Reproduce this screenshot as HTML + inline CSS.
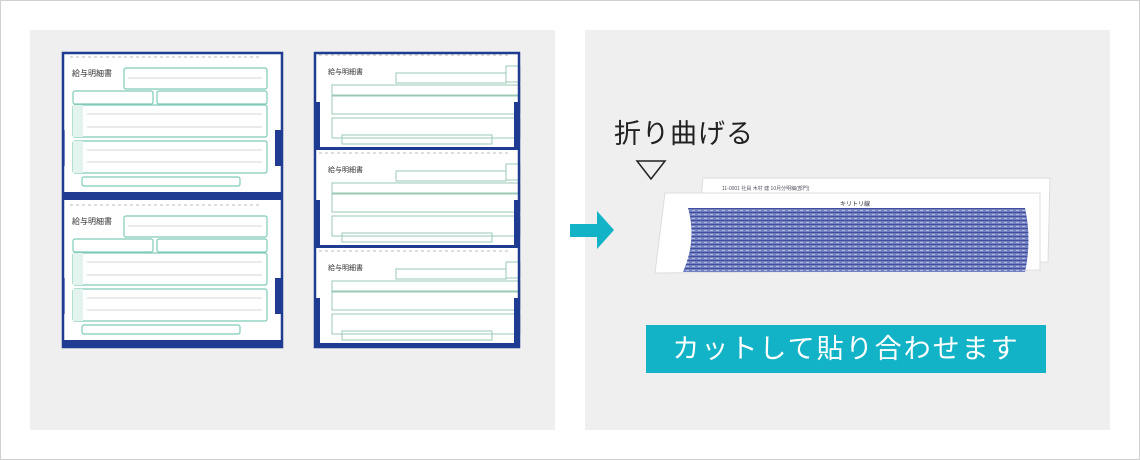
<!DOCTYPE html>
<html><head><meta charset="utf-8"><style>
html,body{margin:0;padding:0;background:#fff}
body{width:1140px;height:460px;position:relative;overflow:hidden;font-family:"Liberation Sans","Noto Sans CJK JP",sans-serif}
.frame{position:absolute;left:0;top:0;width:1138px;height:458px;border:1px solid #d0d0d0}
.p{position:absolute;background:#efefef}
.t1{position:absolute;left:614px;top:112px;font-size:27px;color:#222;letter-spacing:1px}
.btn{position:absolute;left:646px;top:325px;width:400px;height:48px;background:#13b3c7;color:#fff;font-size:27px;line-height:48px;text-align:center;letter-spacing:2px}
svg{position:absolute;left:0;top:0}
</style></head><body>
<div class="frame"></div>
<div class="p" style="left:30px;top:30px;width:525px;height:400px"></div>
<div class="p" style="left:585px;top:30px;width:525px;height:400px"></div>
<svg width="1140" height="460" viewBox="0 0 1140 460">
<defs>
<pattern id="tx" width="6" height="4" patternUnits="userSpaceOnUse">
<rect width="6" height="4" fill="#7280c0"/>
<rect x="0" y="0" width="6" height="1" fill="#3f4f9e"/>
<rect x="2" y="2" width="3" height="1" fill="#b5bde0"/>
</pattern>
<g id="ls">
<rect x="0" y="0" width="221" height="148" fill="#fff"/>
<line x1="8" y1="5" x2="200" y2="5" stroke="#bbb" stroke-width="1" stroke-dasharray="3 3"/>
<text x="10" y="24" font-size="8" fill="#333">給与明細書</text>
<rect x="62" y="16" width="143" height="21" rx="2" fill="none" stroke="#7fcbb8" stroke-width="1.2"/>
<rect x="11" y="39" width="80" height="13" rx="2" fill="none" stroke="#7fcbb8" stroke-width="1.2"/>
<rect x="95" y="39" width="110" height="13" rx="2" fill="none" stroke="#7fcbb8" stroke-width="1.2"/>
<rect x="11" y="53" width="194" height="32" rx="2" fill="none" stroke="#7fcbb8" stroke-width="1.2"/>
<rect x="11" y="53" width="10" height="32" fill="#e3f3ee"/>
<rect x="11" y="89" width="194" height="32" rx="2" fill="none" stroke="#7fcbb8" stroke-width="1.2"/>
<rect x="11" y="89" width="10" height="32" fill="#e3f3ee"/>
<rect x="20" y="125" width="158" height="9" rx="2" fill="none" stroke="#7fcbb8" stroke-width="1.2"/>
<g stroke="#aaa" stroke-width="0.6">
<line x1="25" y1="62" x2="200" y2="62"/><line x1="25" y1="75" x2="200" y2="75"/>
<line x1="25" y1="98" x2="200" y2="98"/><line x1="25" y1="110" x2="200" y2="110"/>
<line x1="66" y1="26" x2="200" y2="26"/>
</g>
<rect x="0" y="140" width="221" height="8" fill="#1f3c92"/>
<rect x="213" y="78" width="8" height="36" fill="#1f3c92"/>
<rect x="0" y="78" width="3" height="36" fill="#8fa0d0"/>
</g>
<g id="ms">
<rect x="0" y="0" width="206" height="98" fill="#fff"/>
<line x1="5" y1="3" x2="195" y2="3" stroke="#bbb" stroke-width="1" stroke-dasharray="3 3"/>
<text x="14" y="22" font-size="7" fill="#333">給与明細書</text>
<rect x="82" y="21" width="110" height="10" fill="none" stroke="#9ac9b3" stroke-width="1"/>
<rect x="192" y="14" width="14" height="16" fill="none" stroke="#9ac9b3" stroke-width="1"/>
<rect x="18" y="33" width="188" height="10" fill="none" stroke="#9ac9b3" stroke-width="1"/>
<rect x="18" y="44" width="188" height="18" fill="none" stroke="#9ac9b3" stroke-width="1"/>
<rect x="18" y="66" width="188" height="20" fill="none" stroke="#9ac9b3" stroke-width="1"/>
<rect x="28" y="83" width="150" height="9" fill="none" stroke="#9ac9b3" stroke-width="1"/>
<rect x="0" y="95" width="206" height="5" fill="#1f3c92"/>
<rect x="0" y="50" width="6" height="48" fill="#1f3c92"/>
<rect x="200" y="50" width="6" height="48" fill="#1f3c92"/>
</g>
</defs>
<use href="#ls" x="62" y="52"/>
<use href="#ls" x="62" y="200"/>
<rect x="63" y="53" width="219" height="294" fill="none" stroke="#1f3c92" stroke-width="2.5"/>
<use href="#ms" x="314" y="52"/>
<use href="#ms" x="314" y="150"/>
<use href="#ms" x="314" y="248"/>
<rect x="315" y="53" width="204" height="294" fill="none" stroke="#1f3c92" stroke-width="2.5"/>
<!-- arrow -->
<rect x="570" y="224" width="30" height="13" fill="#13b3c7"/>
<polygon points="597,211 614,230 597,249" fill="#13b3c7"/>
<!-- triangle -->
<polygon points="637,161 665,161 651,179" fill="none" stroke="#222" stroke-width="1.5"/>
<!-- folded paper -->
<polygon points="703,178 1050,178 1048,262 695,262" fill="#fff" stroke="#ddd"/>
<polygon points="665,193 1040,193 1040,270 655,273" fill="#fff" stroke="#ddd"/>
<text x="722" y="190" font-size="5" fill="#556">11-0001 社員 木村 建 10月分明細(部門)</text>
<path d="M688,208 L1025,208 Q1032,240 1025,272 L683,272 Q697,240 688,208 Z" fill="url(#tx)"/>
<text x="840" y="206" font-size="6" fill="#334">キリトリ線</text>
</svg>
<div class="t1">折り曲げる</div>
<div class="btn">カットして貼り合わせます</div>
</body></html>
